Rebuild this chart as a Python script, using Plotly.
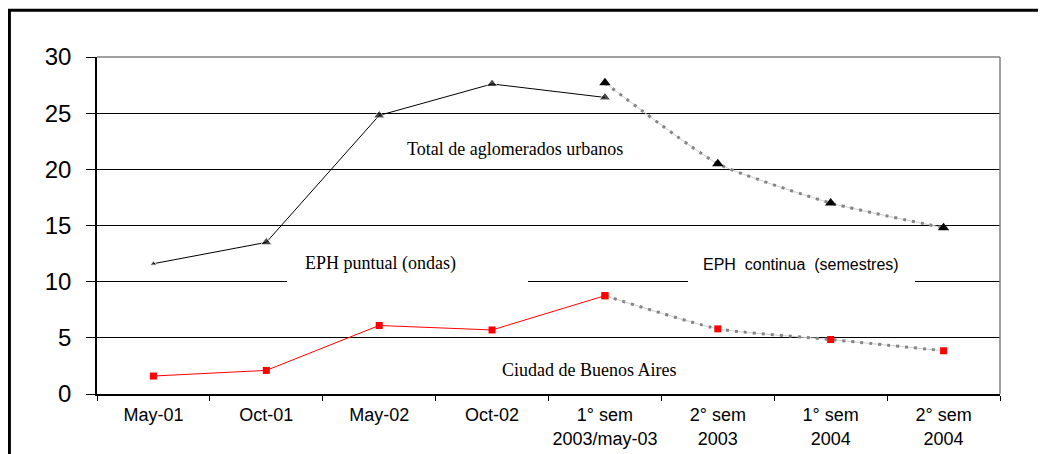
import plotly.graph_objects as go

categories = ["May-01", "Oct-01", "May-02", "Oct-02",
              "1° sem<br>2003/may-03", "2° sem<br>2003", "1° sem<br>2004", "2° sem<br>2004"]

# Total de aglomerados urbanos
total_puntual = [11.6, 13.5, 24.8, 27.6, 26.4]
total_continua = [27.7, 20.5, 17.0, 14.8]

# Ciudad de Buenos Aires
caba_puntual = [1.6, 2.1, 6.1, 5.7, 8.75]
caba_continua = [8.75, 5.8, 4.85, 3.85]

y_ticks = [0, 5, 10, 15, 20, 25, 30]

cat_p = categories[:5]
cat_c = categories[4:]

fig = go.Figure()

# dotted (continua) segments: light underlay + darker dots
for vals in (total_continua, caba_continua):
    fig.add_trace(go.Scatter(x=cat_c, y=vals, mode="lines",
                             line=dict(color="#d0d0d0", width=1, shape="spline", smoothing=0.5),
                             hoverinfo="skip"))
    fig.add_trace(go.Scatter(x=cat_c, y=vals, mode="lines",
                             line=dict(color="#858585", width=3, dash="3px,6px", shape="spline", smoothing=0.5),
                             hoverinfo="skip"))

fig.add_trace(go.Scatter(x=cat_p, y=total_puntual, mode="lines+markers",
                         line=dict(color="black", width=1),
                         marker=dict(symbol="triangle-up", color="black", size=[6, 10, 10, 10, 10])))
fig.add_trace(go.Scatter(x=cat_c, y=total_continua, mode="markers",
                         marker=dict(symbol="triangle-up", color="black", size=10)))
fig.add_trace(go.Scatter(x=cat_p, y=caba_puntual, mode="lines+markers",
                         line=dict(color="#ff0000", width=1),
                         marker=dict(symbol="square", color="#ff0000", size=7)))
fig.add_trace(go.Scatter(x=cat_c, y=caba_continua, mode="markers",
                         marker=dict(symbol="square", color="#ff0000", size=7)))

shapes = [
    # white boxes behind the section labels (break the 10 gridline)
    dict(type="rect", xref="paper", yref="paper", x0=0.2104, x1=0.4773, y0=0.31, y1=0.42,
         fillcolor="white", line=dict(width=0), layer="above"),
    dict(type="rect", xref="paper", yref="paper", x0=0.6545, x1=0.9059, y0=0.31, y1=0.42,
         fillcolor="white", line=dict(width=0), layer="above"),
    # gray plot border top and right
    dict(type="line", xref="paper", yref="paper", x0=0, x1=1, y0=1, y1=1,
         line=dict(color="#808080", width=1.5), layer="above"),
    dict(type="line", xref="paper", yref="paper", x0=1, x1=1, y0=0, y1=1,
         line=dict(color="#808080", width=1.5), layer="above"),
    # outer frame
    dict(type="rect", xref="paper", yref="paper", x0=-0.097, x1=1.2, y0=-0.4, y1=1.139,
         line=dict(color="black", width=3), fillcolor="rgba(0,0,0,0)", layer="above"),
]

annotations = [
    dict(text="Total de aglomerados urbanos", x=0.4634, y=0.727,
         font=dict(family="Liberation Serif, Times New Roman, serif", size=18, color="black")),
    dict(text="EPH puntual (ondas)", x=0.3137, y=0.3887,
         font=dict(family="Liberation Serif, Times New Roman, serif", size=18, color="black")),
    dict(text="EPH\u00a0 continua\u00a0 (semestres)", x=0.7796, y=0.3828,
         font=dict(family="Liberation Sans, Arial, sans-serif", size=16, color="black")),
    dict(text="Ciudad de Buenos Aires", x=0.5449, y=0.0712,
         font=dict(family="Liberation Serif, Times New Roman, serif", size=18, color="black")),
]
for a in annotations:
    a.update(xref="paper", yref="paper", showarrow=False, xanchor="center", yanchor="middle")

fig.update_layout(
    width=1038, height=446,
    margin=dict(l=89, r=46, t=49, b=60, autoexpand=False),
    paper_bgcolor="white", plot_bgcolor="white",
    showlegend=False,
    shapes=shapes,
    annotations=annotations,
    font=dict(family="Liberation Sans, Arial, sans-serif", color="black"),
    xaxis=dict(type="category", categoryorder="array", categoryarray=categories,
               range=[-0.5, 7.5], automargin=False, tickangle=0,
               showline=True, linecolor="black", linewidth=1.5,
               ticks="outside", tickson="boundaries", ticklen=5, tickcolor="black",
               showgrid=False, tickfont=dict(size=18), ticklabelstandoff=4),
    yaxis=dict(range=[0, 30], tickvals=y_ticks, automargin=False,
               showline=True, linecolor="black", linewidth=1.5,
               ticks="outside", ticklen=9, tickcolor="black",
               showgrid=True, gridcolor="black", gridwidth=1.2,
               zeroline=False, tickfont=dict(size=24), ticklabelstandoff=10),
)

fig.write_html("out.html")
